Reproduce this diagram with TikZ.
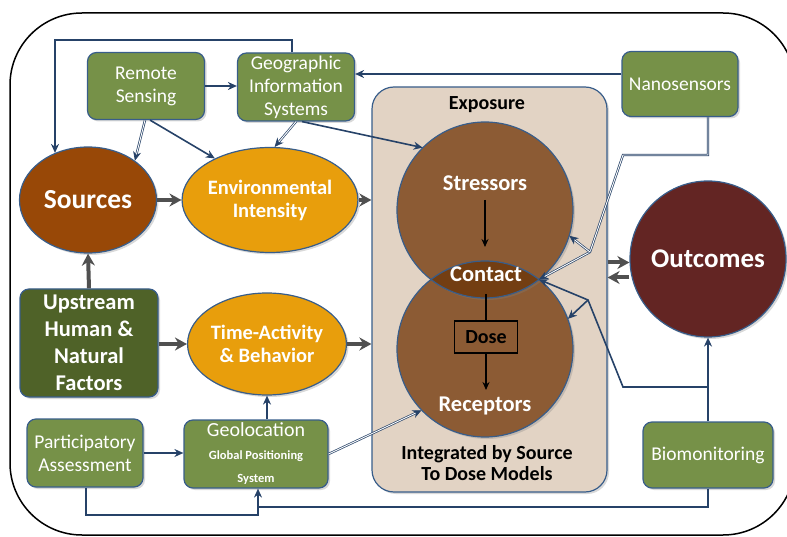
\documentclass[tikz,border=0pt]{standalone}
\usepackage{fontspec}
\setmainfont{Carlito}
\usetikzlibrary{shapes.geometric,arrows.meta,shadows}
\definecolor{edgeblue}{RGB}{56,93,138}
\definecolor{connblue}{RGB}{38,66,104}
\definecolor{boxgreen}{RGB}{118,145,72}
\definecolor{upgreen}{RGB}{79,98,40}
\definecolor{srcbrown}{RGB}{152,72,7}
\definecolor{envorange}{RGB}{232,158,12}
\definecolor{strbrown}{RGB}{140,91,52}
\definecolor{contactc}{RGB}{115,62,18}
\definecolor{outred}{RGB}{99,37,35}
\definecolor{expofill}{RGB}{226,211,196}
\definecolor{thickgray}{RGB}{80,80,80}
\begin{document}
\begin{tikzpicture}[x=1pt,y=-1pt,
  shad/.style={drop shadow={opacity=0.3, shadow xshift=2pt, shadow yshift=-2pt}},
  gbox/.style={rectangle, rounded corners=9pt, fill=boxgreen, draw=edgeblue, line width=1.2pt, shad,
    text=white, align=center, inner sep=0pt, font=\fontsize{19.5}{23}\selectfont},
  ellnode/.style={ellipse, draw=edgeblue, line width=1.2pt, text=white, align=center, inner sep=0pt, shad,
    font=\bfseries\fontsize{20.5}{23}\selectfont},
  conn/.style={draw=connblue, line width=1.6pt, -{Stealth[length=9pt,width=8pt]}},
  cline/.style={draw=connblue, line width=1.6pt},
  dconn/.style={draw=connblue, line width=0.7pt, double=white, double distance=0.9pt, -{Stealth[length=9pt,width=8pt]}},
  thickarr/.style={draw=thickgray, line width=4pt, -{Stealth[length=12pt,width=13pt]}},
  blackarr/.style={draw=black, line width=1.3pt, -{Stealth[length=8pt,width=7pt]}},
  wtext/.style={text=white, font=\bfseries\fontsize{22.5}{24}\selectfont, inner sep=0pt},
  ktext/.style={text=black, font=\bfseries\fontsize{20}{21}\selectfont, align=center, inner sep=0pt}
]
\useasboundingbox (0,0) rectangle (787,537);
% outer frame
\draw[black, line width=1.5pt, rounded corners=72pt] (10,13) rectangle (795,535);

% exposure box
\node[rectangle, rounded corners=22pt, fill=expofill, draw=edgeblue, line width=1.2pt, shad,
  minimum width=235pt, minimum height=405pt, inner sep=0pt] (expo) at (489.5,289.5) {};
\node[ktext] (expot) at (487,105) {Exposure};
\node[ktext] (integ) at (487,463) {Integrated by Source\\To Dose Models};

% circles
\node[circle, fill=strbrown, minimum size=176pt, inner sep=0pt, shad] (rec) at (485,349) {};
\node[circle, fill=strbrown, minimum size=176pt, inner sep=0pt, shad] (stc) at (485,210) {};
\begin{scope}
  \clip (485,210) circle[radius=88pt];
  \fill[contactc] (485,349) circle[radius=88pt];
\end{scope}
\draw[edgeblue, line width=1.2pt] (485,210) circle[radius=88pt];
\draw[edgeblue, line width=1.2pt] (485,349) circle[radius=88pt];
\node[wtext] (stt) at (485,183) {Stressors};
\node[wtext] (cont) at (486,274) {Contact};
\node[wtext] (rect) at (485,406) {Receptors};
\node[rectangle, draw=black, line width=1.3pt, minimum width=63pt, minimum height=32pt, inner sep=0pt,
  font=\bfseries\fontsize{20}{22}\selectfont] (dose) at (486,337) {Dose};
\coordinate (sa) at (485,247);
\coordinate (ra) at (486,390);
\draw[blackarr] (stt.south |- 0,200) -- (sa);
\draw[black, line width=1.3pt] (dose.north |- 0,294) -- (dose.north);
\draw[blackarr] (dose.south) -- (ra);
\coordinate (ctip) at (539,279.5);

% green boxes
\node[gbox, minimum width=117pt, minimum height=67pt] (rs) at (146,86) {Remote\\Sensing};
\node[gbox, minimum width=117pt, minimum height=68pt] (gis) at (296,87) {Geographic\\Information\\Systems};
\node[gbox, minimum width=116pt, minimum height=65pt] (nano) at (680,84) {Nanosensors};
\node[gbox, minimum width=116pt, minimum height=68pt] (part) at (85,453) {Participatory\\Assessment};
\node[gbox, minimum width=144pt, minimum height=68pt] (geo) at (256,454)
  {{\fontsize{20}{19}\selectfont Geolocation}\\{\bfseries\fontsize{12.5}{19}\selectfont Global Positioning}\\{\bfseries\fontsize{12.5}{19}\selectfont System}};
\node[gbox, minimum width=130pt, minimum height=66pt] (bio) at (708,455) {Biomonitoring};
\node[gbox, fill=upgreen, minimum width=138pt, minimum height=108pt,
  font=\bfseries\fontsize{22.5}{27}\selectfont] (up) at (89,343) {Upstream\\Human \&\\Natural\\Factors};

% ellipses
\node[ellnode, fill=srcbrown, minimum width=137pt, minimum height=106pt,
  font=\bfseries\fontsize{27.5}{28}\selectfont] (src) at (88,200) {Sources};
\node[ellnode, fill=envorange, minimum width=135pt, minimum height=105pt] (env) at (270,200) {Environmental\\Intensity};
\node[ellnode, fill=envorange, minimum width=139pt, minimum height=102pt] (time) at (267,344) {Time-Activity\\\& Behavior};
\node[circle, draw=edgeblue, line width=1.2pt, fill=outred, text=white, minimum size=156pt, inner sep=0pt, shad,
  font=\bfseries\fontsize{27}{28}\selectfont] (out) at (708,259) {Outcomes};

% thick gray arrows
\draw[thickarr] (src.east) -- (env.west);
\draw[thickarr] (env.east) -- (env.east -| expo.west);
\draw[thickarr] (up.north) -- (src.south);
\draw[thickarr] (up.east |- time.west) -- (time.west);
\draw[thickarr] (time.east) -- (time.east -| expo.west);
\draw[thickarr] ([yshift=27pt]expo.east) -- ([yshift=27pt]expo.east -| out.west);
\draw[thickarr] ([yshift=12pt]expo.east -| out.west) -- ([yshift=12pt]expo.east);

% blue connectors
\coordinate (c1) at (292,40);
\coordinate (c2) at (55,40);
\draw[conn] (gis.north -| c1) -- (c1) -- (c2) -- (c2 |- src.125);
\draw[conn] (rs.east) -- (rs.east -| gis.west);
\draw[conn] ([yshift=10pt]nano.west) -- ([yshift=10pt]nano.west -| gis.east);
\draw[dconn] ([xshift=-1pt]rs.south) -- (src.40);
\draw[conn] ([xshift=4pt]rs.south) -- (env.143);
\draw[dconn] (gis.south) -- (env.85);
\draw[conn] ([xshift=6pt]gis.south) -- (stc.135);
\draw[conn] (part.east) -- (part.east -| geo.west);
\draw[conn] (time.south |- geo.north) -- (time.south);
\coordinate (c3) at (86,515);
\coordinate (c4) at (258,515);
\draw[conn] (part.south -| c3) -- (c3) -- (c4) -- (c4 |- geo.south);
\coordinate (c5) at (708,507);
\coordinate (c6) at (258,507);
\draw[cline] (bio.south) -- (c5) -- (c6);
\draw[dconn] (geo.east) -- (rec.224);
\coordinate (n1) at (708,155);
\coordinate (n2) at (623,155);
\coordinate (n3) at (590,252);
\draw[dconn] (n1 |- nano.south) -- (n1) -- (n2) -- (n3) -- (ctip);
\draw[dconn] (n3) -- (stc.-17);
\draw[conn] (bio.north) -- (out.south);
\coordinate (b1) at (708,387);
\coordinate (b2) at (623,387);
\coordinate (b3) at (588,300);
\draw[conn] (b1) -- (b2) -- (b3) -- (ctip);
\draw[conn] (b3) -- (rec.20);
\end{tikzpicture}
\end{document}
